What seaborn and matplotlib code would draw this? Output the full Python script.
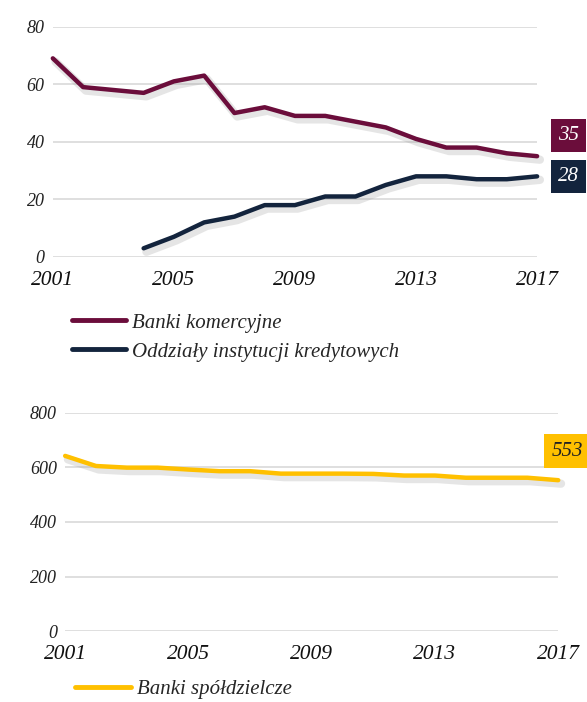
# %% imports

import numpy as np
import pandas as pd
import matplotlib.pyplot as plt
import matplotlib.patheffects as pe
import seaborn as sns

# %% data

years = list(range(2001, 2018))
komercyjne = [69, 59, 58, 57, 61, 63, 50, 52, 49, 49, 47, 45, 41, 38, 38, 36, 35]
oddzialy = [np.nan, np.nan, np.nan, 3, 7, 12, 14, 18, 18, 21, 21, 25, 28, 28, 27, 27, 28]
spoldzielcze = [642, 605, 599, 599, 592, 586, 586, 577, 577, 577, 576, 570, 570, 562, 562, 562, 553]

year_ticks = [2001, 2005, 2009, 2013, 2017]
top_yticks = [0, 20, 40, 60, 80]
bottom_yticks = [0, 200, 400, 600, 800]

names = ["Banki komercyjne", "Oddziały instytucji kredytowych", "Banki spółdzielcze"]
colors = {names[0]: "#6b0d3b", names[1]: "#13243d", names[2]: "#ffc000"}
label_text_colors = {names[0]: "white", names[1]: "white", names[2]: "#222222"}

df_top = pd.DataFrame({"rok": years * 2,
                       "wartosc": komercyjne + oddzialy,
                       "seria": [names[0]] * len(years) + [names[1]] * len(years)})
df_bottom = pd.DataFrame({"rok": years, "wartosc": spoldzielcze, "seria": names[2]})

# %% config

sns.set_style("white")
plt.rcParams["font.family"] = ["Liberation Serif", "DejaVu Serif"]
plt.rcParams["font.style"] = "italic"

shadow = [pe.SimpleLineShadow(offset=(2, -2.5), shadow_color="#999999", alpha=0.25, linewidth=6),
          pe.Normal()]

fig = plt.figure(figsize=(5.87, 7.02), dpi=100)
ax1 = fig.add_axes([0.090, 0.634, 0.825, 0.328])
ax2 = fig.add_axes([0.111, 0.101, 0.840, 0.311])


def style_axis(ax, yticks):
    ax.set_xlim(2001, 2017)
    ax.set_ylim(yticks[0], yticks[-1])
    ax.set_xticks(year_ticks)
    ax.set_yticks(yticks)
    ax.set_xticklabels([str(y) for y in year_ticks], fontsize=15.5, style="italic",
                       color="#111111")
    ax.set_yticklabels([str(y) for y in yticks], fontsize=13, style="italic", color="#222222")
    ax.grid(axis="y", color="#d9d9d9", linewidth=1.2)
    ax.set_axisbelow(True)
    for s in ax.spines.values():
        s.set_visible(False)
    ax.tick_params(length=0, pad=10, axis="x")
    ax.tick_params(length=0, pad=6, axis="y")
    ax.set_xlabel("")
    ax.set_ylabel("")


# %% top chart

sns.lineplot(data=df_top, x="rok", y="wartosc", hue="seria", palette=colors,
             linewidth=3.2, ax=ax1, legend=False)
for line in ax1.lines:
    line.set_path_effects(shadow)
    line.set_clip_on(False)
style_axis(ax1, top_yticks)

# label boxes at the end of each series (35 pushed up so boxes do not overlap)
for name, vals, dy in [(names[0], komercyjne, 15), (names[1], oddzialy, 0)]:
    ax1.annotate(str(vals[-1]), xy=(1.0, vals[-1]), xycoords=("axes fraction", "data"),
                 xytext=(15, dy), textcoords="offset points", ha="left", va="center",
                 fontsize=15, style="italic", color=label_text_colors[name],
                 bbox=dict(boxstyle="square,pad=0.35", fc=colors[name], ec="none"))

h1 = [plt.Line2D([], [], color=colors[n], lw=3.5, solid_capstyle="round") for n in names[:2]]
fig.legend(h1, names[:2], loc="upper left", bbox_to_anchor=(0.108, 0.566), frameon=False,
           handlelength=2.6, handletextpad=0.3, labelspacing=0.45,
           borderaxespad=0, prop={"style": "italic", "size": 15})

# %% bottom chart

sns.lineplot(data=df_bottom, x="rok", y="wartosc", color=colors[names[2]],
             linewidth=3.2, ax=ax2, legend=False)
for line in ax2.lines:
    line.set_path_effects(shadow)
    line.set_clip_on(False)
style_axis(ax2, bottom_yticks)

ax2.annotate(str(spoldzielcze[-1]), xy=(1.0, spoldzielcze[-1]), xycoords=("axes fraction", "data"),
             xytext=(-5, 21), textcoords="offset points", ha="left", va="center",
             fontsize=15, style="italic", color=label_text_colors[names[2]],
             bbox=dict(boxstyle="square,pad=0.35", fc=colors[names[2]], ec="none"))

h2 = [plt.Line2D([], [], color=colors[names[2]], lw=3.5, solid_capstyle="round")]
fig.legend(h2, names[2:], loc="upper left", bbox_to_anchor=(0.113, 0.044), frameon=False,
           handlelength=2.7, handletextpad=0.3, borderaxespad=0,
           prop={"style": "italic", "size": 15})

plt.savefig("out.png", dpi=100)
